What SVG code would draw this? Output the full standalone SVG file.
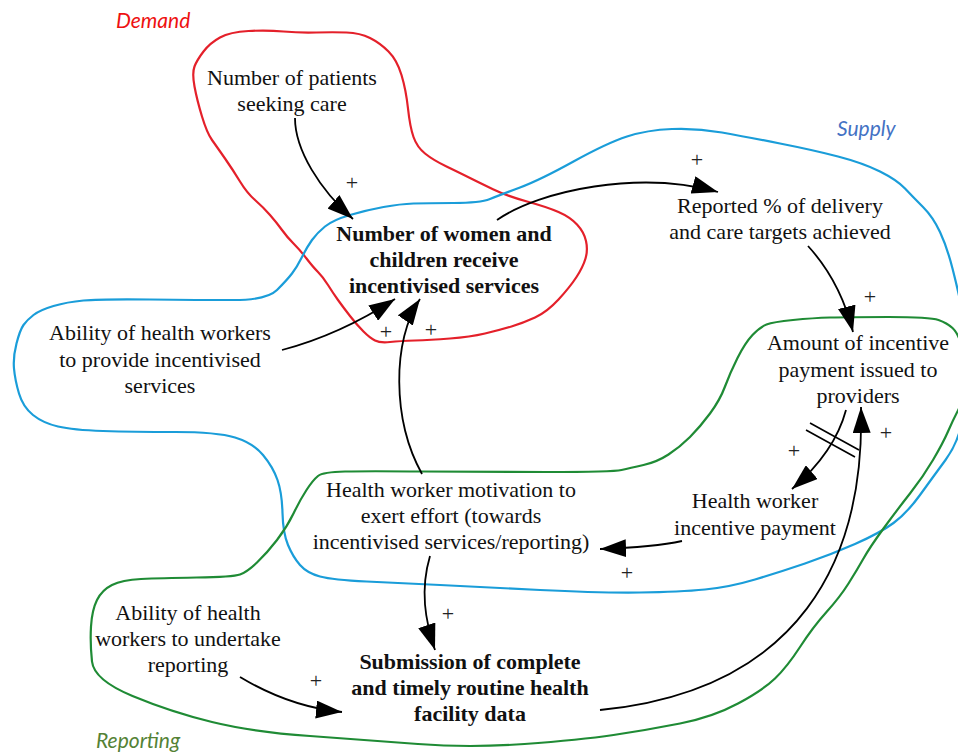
<svg xmlns="http://www.w3.org/2000/svg" width="958" height="752" viewBox="0 0 958 752">
<style>
.bg{fill:#ffffff}
.loop{fill:none;stroke-width:2.2;stroke-linejoin:round;stroke-linecap:round}
.red{stroke:#e4202a}
.blue{stroke:#1a9dd9}
.green{stroke:#1f8b35}
.lbl{font-family:"Lato","Liberation Sans",sans-serif;font-style:italic;font-size:21px}
.t{font-family:"Liberation Serif","Times New Roman",serif;font-size:22px;fill:#111;text-anchor:middle}
.b{font-weight:bold}
.pl{font-family:"Liberation Serif","Times New Roman",serif;font-size:22px;fill:#222;text-anchor:middle}
.arr{fill:none;stroke:#000;stroke-width:1.8;marker-end:url(#ah)}
.dl{stroke:#000;stroke-width:1.6}
</style>
<defs>
<marker id="ah" viewBox="0 0 26 18" refX="26" refY="9" markerWidth="26" markerHeight="18" markerUnits="userSpaceOnUse" orient="auto">
<path d="M0,0 L26,9 L0,18 Z" fill="#000"/>
</marker>
</defs>
<rect class="bg" x="0" y="0" width="958" height="752"/>

<g id="loops">
<path id="loop-demand" class="loop red" d="M220,37.5 Q230,32 248.5,31 Q267,30 283.5,31.5 Q300,33 316.5,32.5 Q333,32 346.5,32.5 Q360,33 370,38 Q380,43 388.5,51.5 Q397,60 401.5,75 Q406,90 408,108.5 Q410,127 413.5,137 Q417,147 425,153.5 Q433,160 446.5,166.5 Q460,173 470,178 Q480,183 493.5,189.5 Q507,196 527,201.5 Q547,207 558.5,212 Q570,217 577,224.5 Q584,232 586,241 Q588,250 585.5,258.5 Q583,267 576.5,277 Q570,287 558.5,299.5 Q547,312 535,317.5 Q523,323 511.5,326.5 Q500,330 485,333.5 Q470,337 450,338.5 Q430,340 415,340.5 Q400,341 390,342 Q380,343 375,340.5 Q370,338 363.5,331.5 Q357,325 350,316 Q343,307 338,300 Q333,293 328,285 Q323,277 318,272 Q313,267 306.5,258.5 Q300,250 293.5,243.5 Q287,237 282,230 Q277,223 270,215 Q263,207 255,200 Q247,193 240,181.5 Q233,170 225,158.5 Q217,147 212,140 Q207,133 202,116.5 Q197,100 194.5,86.5 Q192,73 194.5,66.5 Q197,60 203.5,51.5 Q210,43 220,37.5 Z"/>
<path id="loop-supply" class="loop blue" d="M23.5,325 Q27,320 33.5,315 Q40,310 53.5,306 Q67,302 83.5,300.5 Q100,299 150,299.5 Q200,300 233.5,300 Q267,300 277,290 Q287,280 292,273.5 Q297,267 302,257 Q307,247 312,240 Q317,233 325,226.5 Q333,220 350,215 Q367,210 383.5,207 Q400,204 413.5,203.5 Q427,203 453.5,203 Q480,203 490,199 Q500,195 520,187.5 Q540,180 573.5,161.5 Q607,143 627,136.5 Q647,130 672,129 Q697,128 722,132.5 Q747,137 780,143.5 Q813,150 838,156.5 Q863,163 880,171.5 Q897,180 905,188.5 Q913,197 923,207 Q933,217 940,232 Q947,247 952.5,268.5 Q958,290 962,310 Q966,330 966,365 Q966,400 962,421.5 Q958,443 945.5,460 Q933,477 920,495 Q907,513 893.5,523 Q880,533 855,544 Q830,555 805,563.5 Q780,572 755,579.5 Q730,587 705,589.5 Q680,592 640,592.5 Q600,593 540,590 Q480,587 440,585 Q400,583 366.5,581.5 Q333,580 320,576.5 Q307,573 300,565 Q293,557 288,545 Q283,533 282.5,513 Q282,493 277.5,480 Q273,467 263,455 Q253,443 235,437.5 Q217,432 175,432 Q133,432 103,431 Q73,430 58,426.5 Q43,423 33,415 Q23,407 19,393.5 Q15,380 14,368.5 Q13,357 16.5,343.5 Q20,330 23.5,325 Z"/>
<path id="loop-reporting" class="loop green" d="M752.5,335 Q760,327 766.5,324.5 Q773,322 793,320 Q813,318 830,317.5 Q847,317 888.5,317 Q930,317 938.5,320 Q947,323 952.5,328 Q958,333 962,346.5 Q966,360 966,377.5 Q966,395 959.5,407.5 Q953,420 948,431.5 Q943,443 933,460 Q923,477 910,493.5 Q897,510 883.5,528.5 Q870,547 863.5,558.5 Q857,570 848.5,583.5 Q840,597 826.5,612 Q813,627 800,647 Q787,667 775,678.5 Q763,690 738,703.5 Q713,717 680,723.5 Q647,730 613.5,735 Q580,740 524.5,744 Q469,748 418,744 Q367,740 310,736 Q253,732 212,722 Q171,712 132.5,696 Q94,680 92,661.5 Q90,643 91,626.5 Q92,610 97,600 Q102,590 112,585 Q122,580 141,579 Q160,578 196.5,577.5 Q233,577 240,574.5 Q247,572 257,562.5 Q267,553 277,540 Q287,527 293.5,513.5 Q300,500 306.5,490 Q313,480 318,476 Q323,472 345,471.5 Q367,471 423.5,471.5 Q480,472 546.5,472 Q613,472 621.5,470 Q630,468 643.5,465 Q657,462 668.5,454.5 Q680,447 690,437 Q700,427 710,413.5 Q720,400 725,386.5 Q730,373 737.5,358 Q745,343 752.5,335 Z"/>
<text class="lbl" x="116" y="28" fill="#ee1111">Demand</text>
<text class="lbl" x="837" y="136" fill="#4472c4">Supply</text>
<text class="lbl" x="96" y="748" fill="#548235">Reporting</text>
</g>

<g id="connectors">
<path class="arr" d="M295,118 C295,150 320,190 353,219"/>
<path class="arr" d="M497,220 C540,190 640,170 718,192"/>
<path class="arr" d="M808,246 C830,270 845,300 853,332"/>
<path class="arr" d="M846,410 C838,440 820,465 792,489"/>
<path class="arr" d="M600,710 C800,690 865,560 861,407"/>
<path class="arr" d="M682,541 C660,546 630,548 600,549"/>
<path class="arr" d="M430,556 C420,590 425,620 435,650"/>
<path class="arr" d="M422,474 C392,420 392,340 420,299"/>
<path class="arr" d="M282,350 C320,340 355,325 395,299"/>
<path class="arr" d="M240,677 C265,692 300,708 342,712"/>
<line class="dl" x1="810" y1="423" x2="859" y2="450"/>
<line class="dl" x1="806" y1="430" x2="855" y2="457"/>
<text class="pl" x="352" y="190">+</text>
<text class="pl" x="697" y="167">+</text>
<text class="pl" x="870" y="304">+</text>
<text class="pl" x="794" y="458">+</text>
<text class="pl" x="886" y="440">+</text>
<text class="pl" x="627" y="580">+</text>
<text class="pl" x="448" y="621">+</text>
<text class="pl" x="431" y="337">+</text>
<text class="pl" x="386" y="339">+</text>
<text class="pl" x="316" y="688">+</text>
</g>

<g id="n-patients"><text class="t" x="292" y="85">Number of patients</text><text class="t" x="292" y="111">seeking care</text></g>
<g id="n-women"><text class="t b" x="444" y="241">Number of women and</text><text class="t b" x="444" y="267">children receive</text><text class="t b" x="444" y="293">incentivised services</text></g>
<g id="n-reported"><text class="t" x="780" y="213">Reported % of delivery</text><text class="t" x="780" y="239">and care targets achieved</text></g>
<g id="n-amount"><text class="t" x="858" y="350">Amount of incentive</text><text class="t" x="858" y="377">payment issued to</text><text class="t" x="858" y="403">providers</text></g>
<g id="n-ability-provide"><text class="t" x="160" y="340">Ability of health workers</text><text class="t" x="160" y="367">to provide incentivised</text><text class="t" x="160" y="393">services</text></g>
<g id="n-motivation"><text class="t" x="451" y="497">Health worker motivation to</text><text class="t" x="451" y="523">exert effort (towards</text><text class="t" x="451" y="549">incentivised services/reporting)</text></g>
<g id="n-hw-payment"><text class="t" x="755" y="508">Health worker</text><text class="t" x="755" y="535">incentive payment</text></g>
<g id="n-ability-report"><text class="t" x="188" y="620">Ability of health</text><text class="t" x="188" y="646">workers to undertake</text><text class="t" x="188" y="672">reporting</text></g>
<g id="n-submission"><text class="t b" x="470" y="669">Submission of complete</text><text class="t b" x="470" y="695">and timely routine health</text><text class="t b" x="470" y="721">facility data</text></g>
</svg>
